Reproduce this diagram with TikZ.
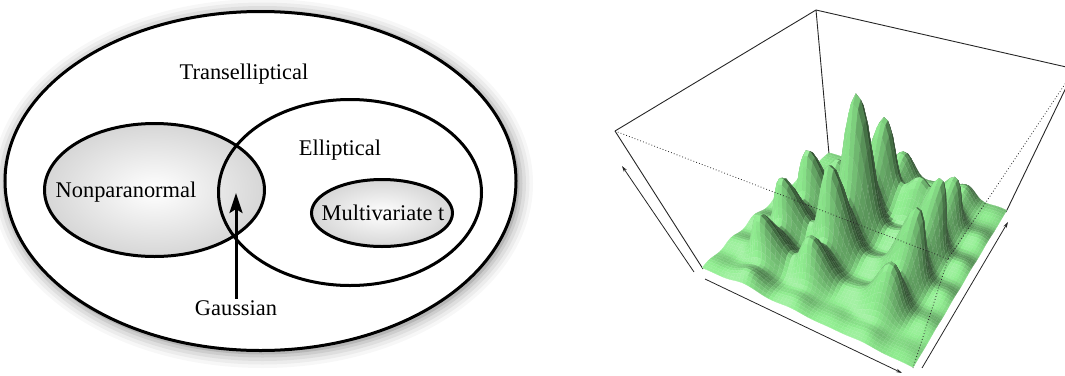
\documentclass[tikz,border=0pt]{standalone}
\usepackage{fontspec}
\setmainfont{Liberation Serif}
\newfontfamily\lblfont{Liberation Serif}
\usetikzlibrary{arrows.meta}
\definecolor{lg}{RGB}{144,238,144}
\tikzset{
  setline/.style={line width=3pt, draw=black},
  lbl/.style={font=\lblfont\fontsize{22.4}{26}\selectfont, inner sep=1pt, anchor=base},
  softshade/.style={inner color=white, outer color=black!16},
  boxedge/.style={line width=0.9pt, draw=black!85},
  hiddenedge/.style={line width=0.8pt, draw=black!85, dash pattern=on 0.8pt off 2.2pt},
  axisarrow/.style={line width=0.8pt, draw=black!85, -{Stealth[length=6pt,width=3.5pt]}},
  gaussarrow/.style={line width=3pt, -{Stealth[length=20pt,width=13pt,inset=4pt]}},
}
\newcommand\csv[1]{\csname#1\endcsname}

\begin{document}
\begin{tikzpicture}[x=1pt,y=-1pt]
\useasboundingbox (0,0) rectangle (1065,375);

%% ---------------- Left: nested sets ----------------
\foreach \rx/\ry/\o in {270.5pt/184.5pt/0.03,267pt/181pt/0.045,263.5pt/177.5pt/0.06,260pt/174pt/0.08,257pt/171pt/0.11}{
  \fill[black,opacity=\o] (262.5,183.5) ellipse [x radius=\rx, y radius=\ry];
}
\draw[setline, fill=white] (260.5,181) ellipse [x radius=255.5pt, y radius=169.5pt];
\shade[softshade] (154.5,190) ellipse [x radius=110pt, y radius=66.5pt];
\shade[softshade] (382,213) ellipse [x radius=70.5pt, y radius=33.5pt];
\draw[setline] (154.5,190) ellipse [x radius=110pt, y radius=66.5pt];
\draw[setline] (350,192.5) ellipse [x radius=131.5pt, y radius=93pt];
\draw[setline] (382,213) ellipse [x radius=70.5pt, y radius=33.5pt];

\node[lbl] (trans) at (244,79) {Transelliptical};
\node[lbl] (ell) at (340,155) {Elliptical};
\node[lbl] (npn) at (126,197) {Nonparanormal};
\node[lbl] (mvt) at (383,220) {Multivariate t};
\node[lbl] (gauss) at (236,315) {Gaussian};
\coordinate (gtip) at (236,193);
\draw[gaussarrow] (gauss.north) -- (gtip);

%% ---------------- Right: surface plot ----------------
\coordinate (L) at (703,269);
\coordinate (F) at (913,368);
\coordinate (B) at (829,154);
\coordinate (R) at (1006,212);
\coordinate (TL) at (615,131);
\coordinate (TF) at (948,259);
\coordinate (TB) at (816,10);
\coordinate (TR) at (1075,69);

% bump heights H(i,j): i = index along u, j = index along v
\foreach \j/\row in {0/{0.03,0.12,0.06,0.03,0.05,0.02},1/{0.05,0.42,0.40,0.07,0.45,0.05},2/{0.07,0.52,0.74,0.10,0.66,0.07},3/{0.06,0.55,1.0,0.12,0.66,0.08},4/{0.04,0.30,0.71,0.36,0.45,0.07},5/{0.02,0.08,0.28,0.08,0.16,0.03}}{%
  \foreach \val [count=\ii from 0] in \row {%
    \expandafter\xdef\csname H\ii-\j\endcsname{\val}}}
% one-dimensional Gaussian factors
\foreach \i/\c in {0/0.04,1/0.21,2/0.42,3/0.60,4/0.755,5/0.95}{%
  \foreach \k in {0,...,60}{%
    \pgfmathsetmacro\tq{(\k/60-\c)/0.057}%
    \pgfmathparse{exp(max(-12,-0.5*(\tq)*(\tq)))}%
    \expandafter\xdef\csname gu\i-\k\endcsname{\pgfmathresult}}}
\foreach \i/\c in {0/0.06,1/0.24,2/0.42,3/0.60,4/0.78,5/0.96}{%
  \foreach \k in {0,...,60}{%
    \pgfmathsetmacro\tq{(\k/60-\c)/0.053}%
    \pgfmathparse{exp(max(-12,-0.5*(\tq)*(\tq)))}%
    \expandafter\xdef\csname gv\i-\k\endcsname{\pgfmathresult}}}
\foreach \j in {0,...,5}{\foreach \k in {0,...,60}{%
  \edef\ex{\csv{H0-\j}*\csv{gu0-\k}+\csv{H1-\j}*\csv{gu1-\k}+\csv{H2-\j}*\csv{gu2-\k}+\csv{H3-\j}*\csv{gu3-\k}+\csv{H4-\j}*\csv{gu4-\k}+\csv{H5-\j}*\csv{gu5-\k}}%
  \pgfmathparse{\ex}%
  \expandafter\xdef\csname A\j-\k\endcsname{\pgfmathresult}}}
% heights and projected points
\foreach \kv in {0,...,60}{\foreach \lv in {0,...,60}{%
  \edef\ex{\csv{A0-\kv}*\csv{gv0-\lv}+\csv{A1-\kv}*\csv{gv1-\lv}+\csv{A2-\kv}*\csv{gv2-\lv}+\csv{A3-\kv}*\csv{gv3-\lv}+\csv{A4-\kv}*\csv{gv4-\lv}+\csv{A5-\kv}*\csv{gv5-\lv}}%
  \pgfmathparse{\ex}\let\hh\pgfmathresult
  \expandafter\xdef\csname h\kv-\lv\endcsname{\hh}%
  \pgfmathsetmacro\sfac{\hh/(1.4-0.4*\hh)}%
  \pgfmathsetmacro\uu{\kv/60}%
  \pgfmathsetmacro\vv{\lv/60}%
  \pgfmathsetmacro\px{703+210*\uu+126*\vv-33*\uu*\vv+\sfac*(-88+123*\uu+75*\vv-41*\uu*\vv)}%
  \pgfmathsetmacro\py{269+99*\uu-115*\vv-41*\uu*\vv+\sfac*(-138+29*\uu-6*\vv-28*\uu*\vv)}%
  \expandafter\xdef\csname X\kv-\lv\endcsname{\px}%
  \expandafter\xdef\csname Y\kv-\lv\endcsname{\py}}}

\begin{scope}
\clip (600,0) rectangle (1065,375);
\draw[boxedge] (TL) -- (TB) -- (TR);
\draw[boxedge] (TB) -- (B);
\draw[boxedge] (TL) -- (L);
\draw[boxedge] (TR) -- (R);
% surface facets, back to front
\foreach \lv in {59,...,0}{%
 \foreach \kv in {0,...,59}{%
  \pgfmathtruncatemacro\ka{\kv+1}%
  \pgfmathtruncatemacro\la{\lv+1}%
  \edef\ex{(\csv{h\ka-\lv}+\csv{h\ka-\la}-\csv{h\kv-\lv}-\csv{h\kv-\la})*30}%
  \pgfmathsetmacro\hu{\ex}%
  \edef\ex{(\csv{h\kv-\la}+\csv{h\ka-\la}-\csv{h\kv-\lv}-\csv{h\ka-\lv})*30}%
  \pgfmathsetmacro\hv{\ex}%
  \pgfmathsetmacro\dd{(0.35*(\hu)+0.6*(\hv)+0.72)/sqrt(1+(\hu)*(\hu)+(\hv)*(\hv))}%
  \pgfmathsetmacro\bb{1.08*max(0.3,(1+\dd)/2)}%
  \ifdim\bb pt>1pt
    \pgfmathtruncatemacro\pct{100-(\bb-1)*220}\def\mixc{white}%
  \else
    \pgfmathtruncatemacro\pct{100*\bb}\def\mixc{black}%
  \fi
  \fill[fill=lg!\pct!\mixc, draw=lg!\pct!\mixc!90!white, line width=0.25pt, line join=round]
    (\csv{X\kv-\lv},\csv{Y\kv-\lv}) -- (\csv{X\ka-\lv},\csv{Y\ka-\lv}) --
    (\csv{X\ka-\la},\csv{Y\ka-\la}) -- (\csv{X\kv-\la},\csv{Y\kv-\la}) -- cycle;
 }}
\draw[hiddenedge] (TL) -- (TF) -- (TR);
\draw[hiddenedge] (TF) -- (F);
\end{scope}

\coordinate (xa0) at (705,279);
\coordinate (xa1) at (902,373);
\coordinate (ya0) at (922,368);
\coordinate (ya1) at (1008,222);
\coordinate (za0) at (694,272);
\coordinate (za1) at (622,166);
\draw[axisarrow] (xa0) -- (xa1);
\draw[axisarrow] (ya0) -- (ya1);
\draw[axisarrow] (za0) -- (za1);
\end{tikzpicture}
\end{document}
